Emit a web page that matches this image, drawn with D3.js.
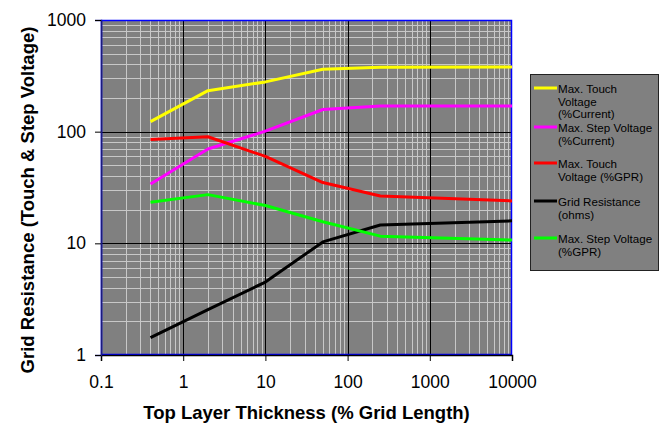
<!DOCTYPE html>
<html>
<head>
<meta charset="utf-8">
<script src="https://cdn.jsdelivr.net/npm/d3@7"></script>
<style>
  body { margin: 0; background: #fff; }
  svg { display: block; font-family: "Liberation Sans", Arial, sans-serif; }
</style>
</head>
<body>
<div id="chart"></div>
<script>
// values
const thickness = [0.4, 2, 10, 50, 250, 10000];
const touchCurrent = [123, 233, 279, 362, 378, 380];
const stepCurrent = [34, 70, 101, 158, 170, 170];
const touchGpr = [85, 90, 60, 35, 26.5, 24];
const gridResistance = [1.43, 2.55, 4.5, 10.3, 14.6, 15.9];
const stepGpr = [23.3, 27.3, 21.8, 15.6, 11.6, 10.7];

const seriesNames = [
    ["Max. Touch", "Voltage", "(%Current)"],
    ["Max. Step Voltage", "(%Current)"],
    ["Max. Touch", "Voltage (%GPR)"],
    ["Grid Resistance", "(ohms)"],
    ["Max. Step Voltage", "(%GPR)"]
];
const seriesColors = ["#ffff00", "#ff00ff", "#ff0000", "#000000", "#00ff00"];
const seriesValues = [touchCurrent, stepCurrent, touchGpr, gridResistance, stepGpr];

const xTickValues = [0.1, 1, 10, 100, 1000, 10000];
const xTickLabels = ["0.1", "1", "10", "100", "1000", "10000"];
const yTickValues = [1, 10, 100, 1000];
const yTickLabels = ["1", "10", "100", "1000"];

const WIDTH = 661, HEIGHT = 423;
const margin = {left: 101, top: 20, right: 149, bottom: 68};
const plotW = WIDTH - margin.left - margin.right;
const plotH = HEIGHT - margin.top - margin.bottom;

const svg = d3.select("#chart").append("svg")
    .attr("width", WIDTH)
    .attr("height", HEIGHT);

const x = d3.scaleLog().domain([0.1, 10000]).range([0, plotW]);
const y = d3.scaleLog().domain([1, 1000]).range([plotH, 0]);

const g = svg.append("g").attr("transform", `translate(${margin.left},${margin.top})`);

g.append("rect")
    .attr("width", plotW)
    .attr("height", plotH)
    .attr("fill", "#808080");

// minor grid (2..9 inside each decade)
const minor = (lo, hi) => {
    const out = [];
    for (let d = lo; d < hi; d *= 10) {
        for (let k = 2; k <= 9; k++) out.push(d * k);
    }
    return out;
};

g.append("g")
    .selectAll("line")
    .data(minor(0.1, 10000))
    .join("line")
    .attr("x1", d => Math.round(x(d)) + 0.5)
    .attr("x2", d => Math.round(x(d)) + 0.5)
    .attr("y1", 0)
    .attr("y2", plotH)
    .attr("stroke", "#c8c8c8");

g.append("g")
    .selectAll("line")
    .data(minor(1, 1000))
    .join("line")
    .attr("y1", d => Math.round(y(d)) + 0.5)
    .attr("y2", d => Math.round(y(d)) + 0.5)
    .attr("x1", 0)
    .attr("x2", plotW)
    .attr("stroke", "#c8c8c8");

// major grid
g.append("g")
    .selectAll("line")
    .data(xTickValues.slice(1, -1))
    .join("line")
    .attr("x1", d => Math.round(x(d)) + 0.5)
    .attr("x2", d => Math.round(x(d)) + 0.5)
    .attr("y1", 0)
    .attr("y2", plotH)
    .attr("stroke", "#000");

g.append("g")
    .selectAll("line")
    .data(yTickValues.slice(1, -1))
    .join("line")
    .attr("y1", d => Math.round(y(d)) + 0.5)
    .attr("y2", d => Math.round(y(d)) + 0.5)
    .attr("x1", 0)
    .attr("x2", plotW)
    .attr("stroke", "#000");

// plot border
g.append("rect")
    .attr("x", 0.5)
    .attr("y", 0.5)
    .attr("width", plotW - 1)
    .attr("height", plotH - 1)
    .attr("fill", "none")
    .attr("stroke", "#0000ff")
    .attr("stroke-width", 1.5);

// axes
const xAxis = d3.axisBottom(x)
    .tickValues(xTickValues)
    .tickFormat((d, i) => xTickLabels[i])
    .tickSize(6)
    .tickPadding(15);

const yAxis = d3.axisLeft(y)
    .tickValues(yTickValues)
    .tickFormat((d, i) => yTickLabels[i])
    .tickSize(6)
    .tickPadding(9);

const xg = g.append("g").attr("transform", `translate(0,${plotH})`).call(xAxis);
const yg = g.append("g").call(yAxis);
xg.select(".domain").attr("stroke", "#000").attr("stroke-width", 1.5);
yg.select(".domain").attr("stroke", "#1a1a80").attr("stroke-width", 1.5);
[xg, yg].forEach(a => {
    a.selectAll("text").attr("font-size", 17.5).attr("fill", "#000")
        .attr("font-family", "'Liberation Sans', Arial, sans-serif");
    a.selectAll(".tick line").attr("stroke", "#000");
});

// series lines
const line = d3.line()
    .x((d, i) => x(thickness[i]))
    .y(d => y(d));

g.append("g")
    .selectAll("path")
    .data(seriesValues)
    .join("path")
    .attr("d", d => line(d))
    .attr("fill", "none")
    .attr("stroke", (d, i) => seriesColors[i])
    .attr("stroke-width", 3)
    .attr("stroke-linejoin", "round");

// axis titles
svg.append("text")
    .attr("x", margin.left + plotW / 2)
    .attr("y", 419)
    .attr("text-anchor", "middle")
    .attr("font-size", 18.5)
    .attr("font-weight", "bold")
    .text("Top Layer Thickness (% Grid Length)");

svg.append("text")
    .attr("transform", `translate(34,200) rotate(-90)`)
    .attr("text-anchor", "middle")
    .attr("font-size", 18.5)
    .attr("font-weight", "bold")
    .text("Grid Resistance (Touch & Step Voltage)");

// legend
const legend = svg.append("g").attr("transform", "translate(530,74)");
legend.append("rect")
    .attr("x", 0.5)
    .attr("y", 0.5)
    .attr("width", 128)
    .attr("height", 196)
    .attr("fill", "#808080")
    .attr("stroke", "#222");

const entryY = [14, 53, 89, 127, 164];
const entries = legend.selectAll("g.entry")
    .data(seriesNames)
    .join("g")
    .attr("class", "entry")
    .attr("transform", (d, i) => `translate(0,${entryY[i]})`);

entries.append("line")
    .attr("x1", 4)
    .attr("x2", 27)
    .attr("stroke", (d, i) => seriesColors[i])
    .attr("stroke-width", 3);

entries.append("text")
    .attr("x", 28)
    .attr("y", 0)
    .attr("font-size", 11.6)
    .attr("fill", "#000")
    .selectAll("tspan")
    .data(d => d)
    .join("tspan")
    .attr("x", 28)
    .attr("y", (d, i) => 5 + i * 12.5)
    .text(d => d);
</script>
</body>
</html>
